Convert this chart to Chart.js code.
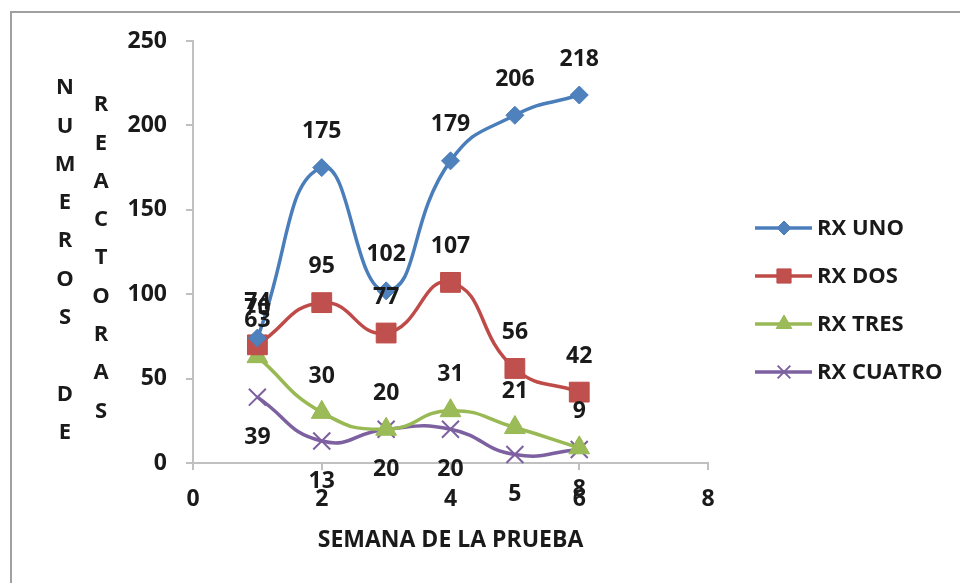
<!DOCTYPE html>
<html>
<head>
<meta charset="utf-8">
<script src="https://cdn.jsdelivr.net/npm/chart.js@4/dist/chart.umd.min.js"></script>
<style>
  html, body { margin: 0; padding: 0; background: #ffffff; }
  #wrap { width: 960px; height: 583px; position: relative; }
</style>
</head>
<body>
<div id="wrap"><canvas id="c" width="960" height="583"></canvas></div>
<script>
// Weekly counts per reactor group
const weeks = [1, 2, 3, 4, 5, 6];
const rxUno = [74, 175, 102, 179, 206, 218];
const rxDos = [70, 95, 77, 107, 56, 42];
const rxTres = [63, 30, 20, 31, 21, 9];
const rxCuatro = [39, 13, 20, 20, 5, 8];
const seriesNames = ['RX UNO', 'RX DOS', 'RX TRES', 'RX CUATRO'];

// Axis ranges and titles
const xRange = { min: 0, max: 8, step: 2 };
const yRange = { min: 0, max: 250, step: 50 };
const xTitle = 'SEMANA DE LA PRUEBA';
const yTitleColumns = ['NUMEROS DE', 'REACTORAS'];

const FONT = '"Open Sans", "DejaVu Sans", sans-serif';
const TEXT = '#1a1a1a';
const AXIS = '#c0c0c0';

const toPoints = vals => weeks.map((w, i) => ({ x: w, y: vals[i] }));

const seriesStyle = [
  { color: '#4a7ebb', fill: '#4f81bd', pointStyle: 'rectRot', radius: 9, legendRadius: 7, labelBelow: false },
  { color: '#be4b48', fill: '#c0504d', pointStyle: 'rect', radius: 14, legendRadius: 10, labelBelow: false },
  { color: '#98b954', fill: '#9bbb59', pointStyle: 'triangle', radius: 12, legendRadius: 9, labelBelow: false },
  { color: '#7d60a0', fill: '#8064a2', pointStyle: 'crossRot', radius: 12, legendRadius: 9, labelBelow: true }
];

const seriesValues = [rxUno, rxDos, rxTres, rxCuatro];

const datasets = seriesValues.map((vals, i) => {
  const s = seriesStyle[i];
  return {
    label: seriesNames[i],
    data: toPoints(vals),
    borderColor: s.color,
    backgroundColor: s.fill,
    borderWidth: 3.5,
    tension: 0.5,
    pointStyle: s.pointStyle,
    pointRadius: s.radius,
    pointBackgroundColor: s.fill,
    pointBorderColor: s.color,
    pointBorderWidth: s.pointStyle === 'crossRot' ? 2 : 1,
    legendRadius: s.legendRadius,
    labelBelow: s.labelBelow,
    clip: false
  };
});

// White background plus the frame around the figure
const framePlugin = {
  id: 'frame',
  beforeDraw(chart) {
    const ctx = chart.ctx;
    ctx.save();
    ctx.fillStyle = '#ffffff';
    ctx.fillRect(0, 0, chart.width, chart.height);
    ctx.strokeStyle = '#a0a0a0';
    ctx.lineWidth = 2;
    ctx.beginPath();
    ctx.moveTo(11, chart.height);
    ctx.lineTo(11, 12);
    ctx.lineTo(chart.width, 12);
    ctx.stroke();
    ctx.restore();
  }
};

// Value labels over (or under) every point
const valueLabelPlugin = {
  id: 'valueLabels',
  afterDatasetsDraw(chart) {
    const ctx = chart.ctx;
    ctx.save();
    ctx.font = 'bold 23px ' + FONT;
    ctx.fillStyle = TEXT;
    ctx.textAlign = 'center';
    ctx.textBaseline = 'middle';
    chart.data.datasets.forEach((ds, di) => {
      const meta = chart.getDatasetMeta(di);
      meta.data.forEach((pt, i) => {
        const off = ds.labelBelow ? 40 : -36;
        ctx.fillText(String(ds.data[i].y), pt.x, pt.y + off);
      });
    });
    ctx.restore();
  }
};

// Legend on the right: line sample with marker, then the name
const sideLegendPlugin = {
  id: 'sideLegend',
  afterDraw(chart) {
    const ctx = chart.ctx;
    ctx.save();
    chart.data.datasets.forEach((ds, i) => {
      const y = 228 + i * 48;
      ctx.strokeStyle = ds.borderColor;
      ctx.lineWidth = 3.5;
      ctx.beginPath();
      ctx.moveTo(755, y);
      ctx.lineTo(812, y);
      ctx.stroke();
      ctx.fillStyle = ds.pointBackgroundColor;
      ctx.strokeStyle = ds.pointBorderColor;
      ctx.lineWidth = ds.pointBorderWidth;
      Chart.helpers.drawPoint(ctx, {
        pointStyle: ds.pointStyle,
        radius: ds.legendRadius,
        rotation: 0,
        borderWidth: ds.pointBorderWidth
      }, 784, y);
      ctx.fillStyle = TEXT;
      ctx.font = 'bold 22px ' + FONT;
      ctx.textAlign = 'left';
      ctx.textBaseline = 'middle';
      ctx.fillText(ds.label, 817, y + 1);
    });
    ctx.restore();
  }
};

// Vertical y-axis title: letters stacked in two columns
const stackedTitlePlugin = {
  id: 'stackedTitle',
  afterDraw(chart) {
    const ctx = chart.ctx;
    ctx.save();
    ctx.font = 'bold 22px ' + FONT;
    ctx.fillStyle = TEXT;
    ctx.textAlign = 'center';
    ctx.textBaseline = 'middle';
    const cols = [{ x: 65, y0: 88 }, { x: 101, y0: 105 }];
    yTitleColumns.forEach((word, c) => {
      Array.from(word).forEach((ch, k) => {
        if (ch !== ' ') ctx.fillText(ch, cols[c].x, cols[c].y0 + k * 38.3);
      });
    });
    ctx.restore();
  }
};

new Chart(document.getElementById('c'), {
  type: 'line',
  data: { datasets },
  options: {
    responsive: false,
    devicePixelRatio: 1,
    animation: false,
    layout: { padding: { top: 41, right: 252, left: 0, bottom: 0 } },
    plugins: {
      legend: { display: false },
      tooltip: { enabled: false },
      title: { display: false }
    },
    scales: {
      x: {
        type: 'linear',
        min: xRange.min,
        max: xRange.max,
        afterFit(scale) { scale.height = 120; },
        ticks: {
          stepSize: xRange.step,
          padding: 16,
          color: TEXT,
          font: { family: FONT, size: 23, weight: 'bold' }
        },
        grid: { drawOnChartArea: false, drawTicks: true, tickLength: 7, color: AXIS, lineWidth: 2 },
        border: { display: true, color: AXIS, width: 2 },
        title: {
          display: true,
          text: xTitle,
          color: TEXT,
          font: { family: FONT, size: 23, weight: 'bold' },
          padding: { top: 0, bottom: 29 }
        }
      },
      y: {
        type: 'linear',
        min: yRange.min,
        max: yRange.max,
        afterFit(scale) { scale.width = 193; },
        ticks: {
          stepSize: yRange.step,
          padding: 19,
          color: TEXT,
          font: { family: FONT, size: 23, weight: 'bold' }
        },
        grid: { drawOnChartArea: false, drawTicks: true, tickLength: 7, color: AXIS, lineWidth: 2 },
        border: { display: true, color: AXIS, width: 2 }
      }
    }
  },
  plugins: [framePlugin, valueLabelPlugin, sideLegendPlugin, stackedTitlePlugin]
});
</script>
</body>
</html>
